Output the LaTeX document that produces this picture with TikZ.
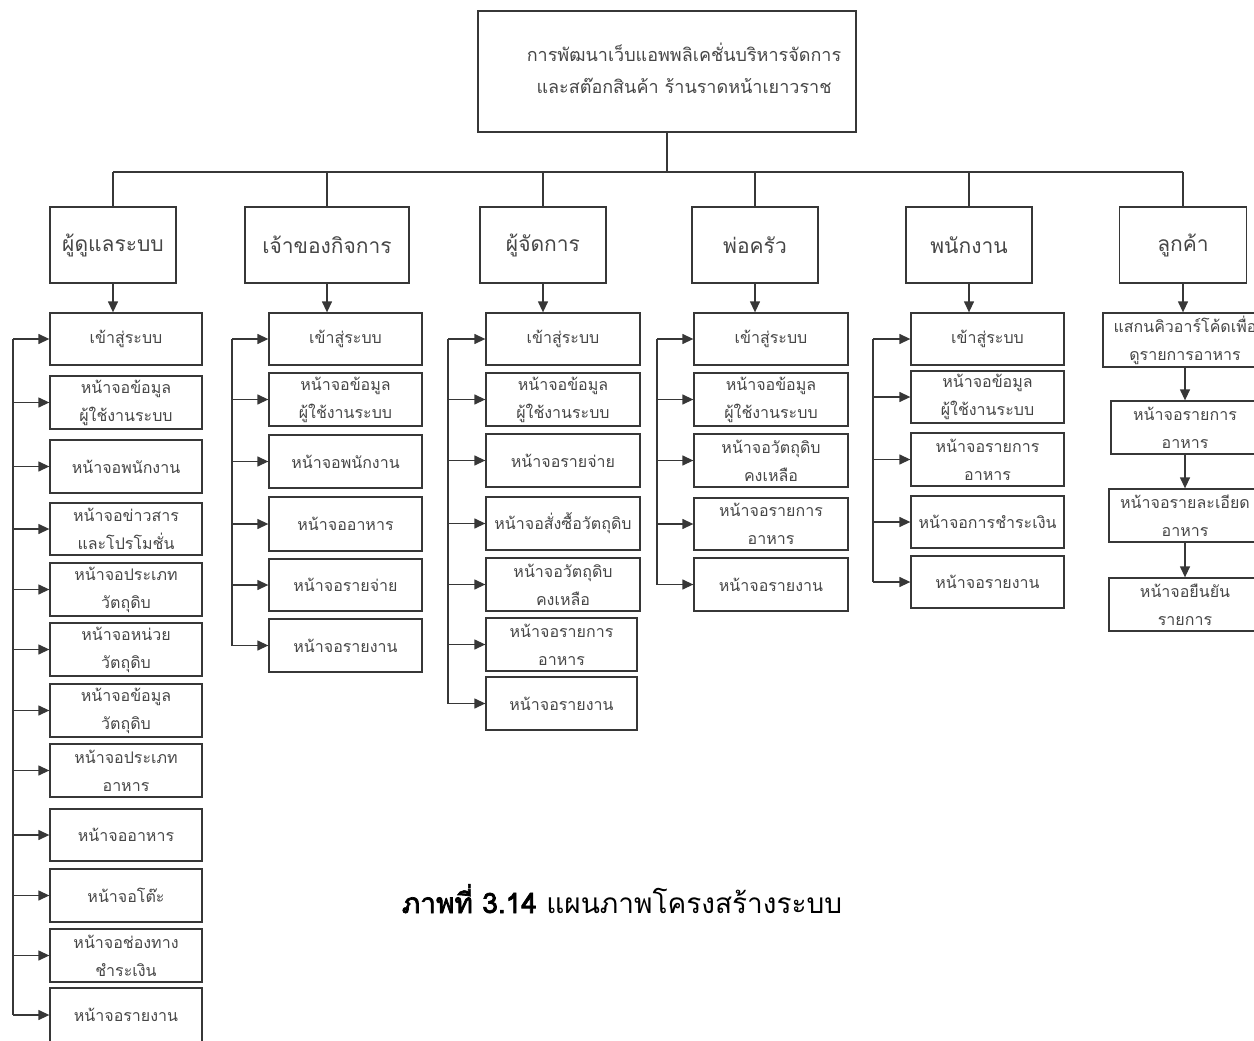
\documentclass[tikz,border=0pt]{standalone}
\usepackage{fontspec}
\newfontfamily\thai[Script=Thai]{Loma}
\newfontfamily\thaibold[Script=Thai, FakeBold=2.5]{Loma}
\usetikzlibrary{arrows.meta}
\definecolor{lc}{RGB}{55,55,55}
\definecolor{tc}{RGB}{70,70,70}
\tikzset{
  bx/.style={draw=lc, line width=1.3pt, rectangle, inner sep=0pt, align=center, text=tc,
    font={\thai\fontsize{16}{28}\selectfont}},
  lvbox/.style={draw=lc, line width=1.3pt, rectangle, inner sep=0pt, align=center, text=tc,
    minimum height=76pt, font={\thai\fontsize{21}{28}\selectfont}},
  ln/.style={draw=lc, line width=1.3pt},
  arr/.style={draw=lc, line width=1.3pt, -{Triangle[length=11pt,width=10pt]}},
}
\begin{document}
\begin{tikzpicture}[x=1pt,y=-1pt]
\useasboundingbox (0,0) rectangle (1254,1041);
\clip (0,0) rectangle (1254,1041);
% top
\node[draw=lc, line width=1.3pt, minimum width=378pt, minimum height=121pt, inner sep=0pt] (top) at (667,71.5) {};
\node[text=tc, align=center, inner sep=0pt, font={\thai\fontsize{18}{32}\selectfont}] (toptext) at (684,68) {การพัฒนาเว็บแอพพลิเคชั่นบริหารจัดการ\\และสต๊อกสินค้า ร้านราดหน้าเยาวราช};
\coordinate (hub) at (667,172);
% level 2
\node[lvbox, minimum width=126pt] (L1) at (113,245) {ผู้ดูแลระบบ};
\node[lvbox, minimum width=164pt] (L2) at (327,245) {เจ้าของกิจการ};
\node[lvbox, minimum width=126pt] (L3) at (543,245) {ผู้จัดการ};
\node[lvbox, minimum width=126pt] (L4) at (755,245) {พ่อครัว};
\node[lvbox, minimum width=126pt] (L5) at (969,245) {พนักงาน};
\node[lvbox, minimum width=127pt] (L6) at (1183,245) {ลูกค้า};
\draw[ln] (top.south) -- (hub);
\draw[ln] (L1.north |- hub) -- (L6.north |- hub);
\foreach \n in {L1,L2,L3,L4,L5,L6} \draw[ln] (\n.north |- hub) -- (\n.north);
% column 1
\begin{scope}[every node/.append style={bx, minimum width=152pt}]
\node[minimum height=52pt] (a1) at (126,339) {เข้าสู่ระบบ};
\node[minimum height=53pt] (a2) at (126,402.5) {หน้าจอข้อมูล\\ผู้ใช้งานระบบ};
\node[minimum height=53pt] (a3) at (126,466.5) {หน้าจอพนักงาน};
\node[minimum height=52pt] (a4) at (126,529) {หน้าจอข่าวสาร\\และโปรโมชั่น};
\node[minimum height=53pt] (a5) at (126,589.5) {หน้าจอประเภท\\วัตถุดิบ};
\node[minimum height=53pt] (a6) at (126,649.5) {หน้าจอหน่วย\\วัตถุดิบ};
\node[minimum height=53pt] (a7) at (126,710.5) {หน้าจอข้อมูล\\วัตถุดิบ};
\node[minimum height=53pt] (a8) at (126,770.5) {หน้าจอประเภท\\อาหาร};
\node[minimum height=52pt] (a9) at (126,835) {หน้าจออาหาร};
\node[minimum height=53pt] (a10) at (126,895.5) {หน้าจอโต๊ะ};
\node[minimum height=53pt] (a11) at (126,955.5) {หน้าจอช่องทาง\\ชำระเงิน};
\node[minimum height=54pt] (a12) at (126,1015) {หน้าจอรายงาน};
\end{scope}
\coordinate (bus1) at (13,339);
\draw[arr] (L1.south) -- (L1.south |- a1.north);
\draw[ln] (a1.west -| bus1) -- (a12.west -| bus1);
\foreach \n in {a1,a2,a3,a4,a5,a6,a7,a8,a9,a10,a11,a12} \draw[arr] (\n.west -| bus1) -- (\n.west);
% column 2
\begin{scope}[every node/.append style={bx, minimum width=153pt}]
\node[minimum height=52pt] (b1) at (345.5,339) {เข้าสู่ระบบ};
\node[minimum height=53pt] (b2) at (345.5,399.5) {หน้าจอข้อมูล\\ผู้ใช้งานระบบ};
\node[minimum height=53pt] (b3) at (345.5,461.5) {หน้าจอพนักงาน};
\node[minimum height=54pt] (b4) at (345.5,524) {หน้าจออาหาร};
\node[minimum height=52pt] (b5) at (345.5,585) {หน้าจอรายจ่าย};
\node[minimum height=53pt] (b6) at (345.5,645.5) {หน้าจอรายงาน};
\end{scope}
\coordinate (bus2) at (232,339);
\draw[arr] (L2.south) -- (L2.south |- b1.north);
\draw[ln] (b1.west -| bus2) -- (b6.west -| bus2);
\foreach \n in {b1,b2,b3,b4,b5,b6} \draw[arr] (\n.west -| bus2) -- (\n.west);
% column 3
\begin{scope}[every node/.append style={bx, minimum width=154pt}]
\node[minimum height=52pt] (c1) at (563,339) {เข้าสู่ระบบ};
\node[minimum height=53pt] (c2) at (563,399.5) {หน้าจอข้อมูล\\ผู้ใช้งานระบบ};
\node[minimum height=53pt] (c3) at (563,460.5) {หน้าจอรายจ่าย};
\node[minimum height=53pt] (c4) at (563,523.5) {หน้าจอสั่งซื้อวัตถุดิบ};
\node[minimum height=53pt] (c5) at (563,584.5) {หน้าจอวัตถุดิบ\\คงเหลือ};
\node[minimum height=53pt, minimum width=151pt] (c6) at (561.5,644.5) {หน้าจอรายการ\\อาหาร};
\node[minimum height=53pt, minimum width=151pt] (c7) at (561.5,703.5) {หน้าจอรายงาน};
\end{scope}
\coordinate (bus3) at (448,339);
\draw[arr] (L3.south) -- (L3.south |- c1.north);
\draw[ln] (c1.west -| bus3) -- (c7.west -| bus3);
\foreach \n in {c1,c2,c3,c4,c5,c6,c7} \draw[arr] (\n.west -| bus3) -- (\n.west);
% column 4
\begin{scope}[every node/.append style={bx, minimum width=154pt}]
\node[minimum height=52pt] (d1) at (771,339) {เข้าสู่ระบบ};
\node[minimum height=53pt] (d2) at (771,399.5) {หน้าจอข้อมูล\\ผู้ใช้งานระบบ};
\node[minimum height=53pt] (d3) at (771,460.5) {หน้าจอวัตถุดิบ\\คงเหลือ};
\node[minimum height=52pt] (d4) at (771,524) {หน้าจอรายการ\\อาหาร};
\node[minimum height=53pt] (d5) at (771,584.5) {หน้าจอรายงาน};
\end{scope}
\coordinate (bus4) at (657,339);
\draw[arr] (L4.south) -- (L4.south |- d1.north);
\draw[ln] (d1.west -| bus4) -- (d5.west -| bus4);
\foreach \n in {d1,d2,d3,d4,d5} \draw[arr] (\n.west -| bus4) -- (\n.west);
% column 5
\begin{scope}[every node/.append style={bx, minimum width=153pt}]
\node[minimum height=52pt] (e1) at (987.5,339) {เข้าสู่ระบบ};
\node[minimum height=52pt] (e2) at (987.5,397) {หน้าจอข้อมูล\\ผู้ใช้งานระบบ};
\node[minimum height=53pt] (e3) at (987.5,459.5) {หน้าจอรายการ\\อาหาร};
\node[minimum height=52pt] (e4) at (987.5,522) {หน้าจอการชำระเงิน};
\node[minimum height=52pt] (e5) at (987.5,582) {หน้าจอรายงาน};
\end{scope}
\coordinate (bus5) at (873,339);
\draw[arr] (L5.south) -- (L5.south |- e1.north);
\draw[ln] (e1.west -| bus5) -- (e5.west -| bus5);
\foreach \n in {e1,e2,e3,e4,e5} \draw[arr] (\n.west -| bus5) -- (\n.west);
% column 6
\begin{scope}[every node/.append style={bx}]
\node[minimum height=54pt, minimum width=164pt] (f1) at (1185,340) {แสกนคิวอาร์โค้ดเพื่อ\\ดูรายการอาหาร};
\node[minimum height=53pt, minimum width=148pt] (f2) at (1185,427.5) {หน้าจอรายการ\\อาหาร};
\node[minimum height=53pt, minimum width=152pt] (f3) at (1185,515.5) {หน้าจอรายละเอียด\\อาหาร};
\node[minimum height=53pt, minimum width=152pt] (f4) at (1185,604.5) {หน้าจอยืนยัน\\รายการ};
\end{scope}
\draw[arr] (L6.south) -- (L6.south |- f1.north);
\draw[arr] (f1.south) -- (f2.north);
\draw[arr] (f2.south) -- (f3.north);
\draw[arr] (f3.south) -- (f4.north);
% caption
\node[anchor=base, inner sep=0pt, font={\thai\fontsize{28}{32}\selectfont}] (cap) at (622,913) {{\thaibold ภาพที่ 3.14} แผนภาพโครงสร้างระบบ};
\end{tikzpicture}
\end{document}
